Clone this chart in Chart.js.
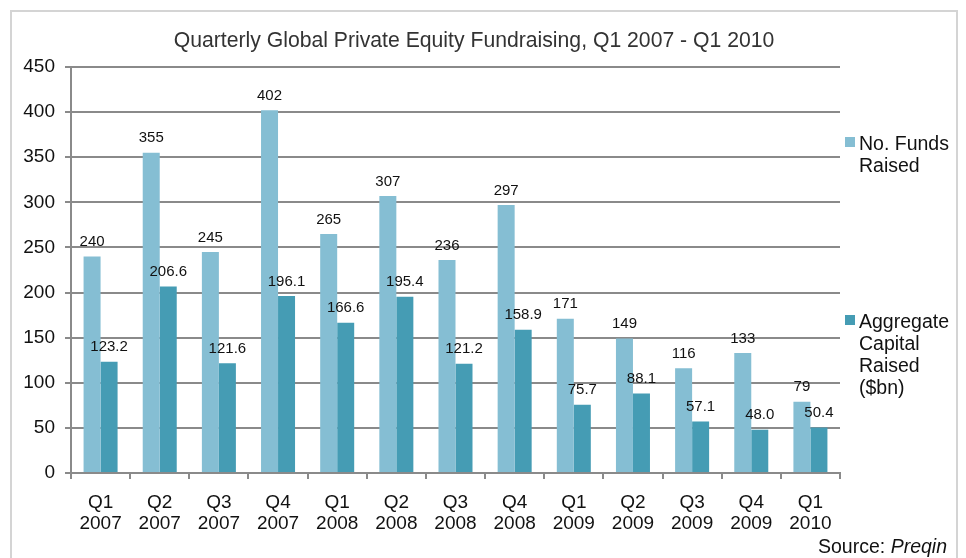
<!DOCTYPE html>
<html>
<head>
<meta charset="utf-8">
<script src="https://cdn.jsdelivr.net/npm/chart.js@4"></script>
<style>
  html, body { margin: 0; padding: 0; background: #fff; }
  #wrap { position: relative; width: 966px; height: 558px; overflow: hidden; }
  #frame { position: absolute; left: 10px; top: 10px; width: 948px; height: 600px;
           border: 2px solid #d4d4d4; box-sizing: border-box; }
  canvas { position: absolute; left: 0; top: 0; }
</style>
</head>
<body>
<div id="wrap">
  <div id="frame"></div>
  <canvas id="grafico" width="966" height="558"></canvas>
</div>
<script>
// dados
const quarters = [
  ['Q1', '2007'], ['Q2', '2007'], ['Q3', '2007'], ['Q4', '2007'],
  ['Q1', '2008'], ['Q2', '2008'], ['Q3', '2008'], ['Q4', '2008'],
  ['Q1', '2009'], ['Q2', '2009'], ['Q3', '2009'], ['Q4', '2009'],
  ['Q1', '2010']
];
const fundsRaised = [240, 355, 245, 402, 265, 307, 236, 297, 171, 149, 116, 133, 79];
const capitalRaised = [123.2, 206.6, 121.6, 196.1, 166.6, 195.4, 121.2, 158.9, 75.7, 88.1, 57.1, 48.0, 50.4];
const seriesNames = [['No. Funds', 'Raised'], ['Aggregate', 'Capital', 'Raised', '($bn)']];
const chartTitle = 'Quarterly Global Private Equity Fundraising, Q1 2007 - Q1 2010';

const FONT = '"Liberation Sans", Arial, sans-serif';
const lightBlue = '#85bed3';
const darkBlue = '#459cb4';
const gridGray = '#8a8a8a';

// rótulos de valor, título, legenda e fonte
const extras = {
  id: 'extras',
  afterDatasetsDraw(chart) {
    const ctx = chart.ctx;
    ctx.save();
    ctx.fillStyle = '#111';
    ctx.font = '15px ' + FONT;
    ctx.textAlign = 'center';
    ctx.textBaseline = 'bottom';
    chart.data.datasets.forEach((ds, i) => {
      chart.getDatasetMeta(i).data.forEach((bar, j) => {
        const v = ds.data[j];
        const txt = i === 0 ? String(v) : v.toFixed(1);
        ctx.fillText(txt, bar.x, bar.y - 7);
      });
    });
    ctx.restore();
  },
  afterDraw(chart) {
    const ctx = chart.ctx;
    ctx.save();
    // título
    ctx.fillStyle = '#333';
    ctx.font = '21.2px ' + FONT;
    ctx.textAlign = 'center';
    ctx.textBaseline = 'middle';
    ctx.fillText(chartTitle, 474, 41);

    // legenda
    const colors = [lightBlue, darkBlue];
    const tops = [137, 315];
    ctx.font = '19.5px ' + FONT;
    ctx.textAlign = 'left';
    seriesNames.forEach((lines, i) => {
      ctx.fillStyle = colors[i];
      ctx.fillRect(845, tops[i], 10, 10);
      ctx.fillStyle = '#111';
      lines.forEach((ln, k) => {
        ctx.fillText(ln, 859, tops[i] + 8 + k * 22);
      });
    });

    // fonte
    ctx.textBaseline = 'alphabetic';
    ctx.font = 'italic 19.5px ' + FONT;
    const w2 = ctx.measureText('Preqin').width;
    ctx.font = '19.5px ' + FONT;
    const w1 = ctx.measureText('Source: ').width;
    const x0 = 947 - w1 - w2;
    ctx.fillText('Source: ', x0, 553);
    ctx.font = 'italic 19.5px ' + FONT;
    ctx.fillText('Preqin', x0 + w1, 553);
    ctx.restore();
  }
};

const ctx = document.getElementById('grafico').getContext('2d');

const grafico = new Chart(ctx, {
  type: 'bar',
  data: {
    labels: quarters,
    datasets: [{
      label: seriesNames[0].join(' '),
      data: fundsRaised,
      backgroundColor: lightBlue
    }, {
      label: seriesNames[1].join(' '),
      data: capitalRaised,
      backgroundColor: darkBlue
    }]
  },
  options: {
    responsive: false,
    animation: false,
    devicePixelRatio: 1,
    layout: { padding: { left: 10, right: 126, top: 67, bottom: 0 } },
    datasets: {
      bar: { categoryPercentage: 0.575, barPercentage: 1.0 }
    },
    plugins: {
      legend: { display: false },
      title: { display: false },
      tooltip: { enabled: false }
    },
    scales: {
      x: {
        afterFit(scale) { scale.height = 85; },
        grid: { drawOnChartArea: false, drawTicks: true, tickLength: 6, color: gridGray, lineWidth: 2, offset: true },
        border: { display: true, color: gridGray, width: 2 },
        ticks: {
          color: '#111',
          padding: 13,
          maxRotation: 0,
          autoSkip: false,
          font: { family: FONT, size: 19, lineHeight: 1.1 }
        }
      },
      y: {
        min: 0,
        max: 450,
        afterFit(scale) { scale.width = 61; },
        grid: { color: gridGray, lineWidth: 2, tickLength: 6 },
        border: { display: true, color: gridGray, width: 2 },
        ticks: {
          stepSize: 50,
          color: '#111',
          padding: 10,
          font: { family: FONT, size: 19 }
        }
      }
    }
  },
  plugins: [extras]
});
</script>
</body>
</html>
